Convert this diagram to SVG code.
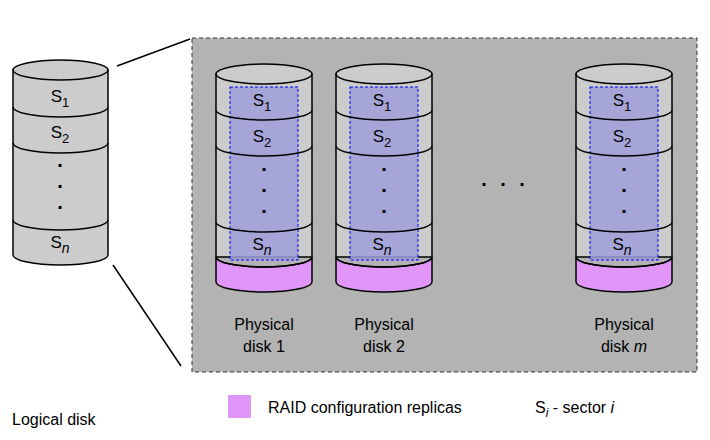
<svg xmlns="http://www.w3.org/2000/svg" width="710" height="440" viewBox="0 0 710 440">
<style>
text{font-family:"Liberation Sans",Arial,sans-serif;font-size:16px;fill:#000}
.s{font-size:17px;text-anchor:middle}
.c{fill:#cccccc;stroke:#000;stroke-width:1.5}
.l{fill:none;stroke:#000;stroke-width:1.5}
.p{fill:#e096f8;stroke:#000;stroke-width:1.5}
.d{fill:#9e9ed8;fill-opacity:0.85;stroke:#0000ff;stroke-width:1;stroke-dasharray:3,2}
.lab{text-anchor:middle}
.dot{font-size:20px;font-weight:bold;text-anchor:middle}
</style>
<rect width="710" height="440" fill="#fff"/>
<g id="connectors">
<line x1="117" y1="66" x2="190" y2="39" stroke="#000" stroke-width="1.5"/>
<line x1="113" y1="265" x2="181" y2="366" stroke="#000" stroke-width="1.5"/>
</g>
<g id="physical-area">
<rect x="192" y="38" width="505" height="334" fill="#b3b3b3" stroke="#333" stroke-dasharray="4,3"/>
</g>
<g id="logical-disk">
<path class="c" d="M13,70 V255 A47.5,10 0 0 0 108,255 V70 Z"/>
<ellipse class="c" cx="60.5" cy="70" rx="47.5" ry="10"/>
<path class="l" d="M13,107 A47.5,10 0 0 0 108,107 M13,143 A47.5,10 0 0 0 108,143 M13,220 A47.5,10 0 0 0 108,220"/>
<text class="s" x="60" y="102">S<tspan font-size="13" dy="5">1</tspan></text>
<text class="s" x="60" y="138">S<tspan font-size="13" dy="5">2</tspan></text>
<text class="dot" x="60" y="167">.</text><text class="dot" x="60" y="188">.</text><text class="dot" x="60" y="209">.</text>
<text class="s" x="60" y="248">S<tspan font-size="14" font-style="italic" dy="5">n</tspan></text>
<text x="12" y="425">Logical disk</text>
</g>
<defs>
<g id="pd">
<path class="c" d="M0,74 V257 H96 V74 Z"/>
<path class="p" d="M0,257 V282 A48,10 0 0 0 96,282 V257 A48,10 0 0 1 0,257 Z"/>
<ellipse class="c" cx="48" cy="74" rx="48" ry="10"/>
<rect class="d" x="14" y="87" width="68" height="173"/>
<path class="l" d="M0,110 A48,10 0 0 0 96,110 M0,146 A48,10 0 0 0 96,146 M0,222 A48,10 0 0 0 96,222 M0,257 A48,10 0 0 0 96,257"/>
<text class="s" x="46" y="106">S<tspan font-size="13" dy="5">1</tspan></text>
<text class="s" x="46" y="142">S<tspan font-size="13" dy="5">2</tspan></text>
<text class="dot" x="48" y="171">.</text><text class="dot" x="48" y="192">.</text><text class="dot" x="48" y="213">.</text>
<text class="s" x="46" y="250">S<tspan font-size="14" font-style="italic" dy="5">n</tspan></text>
</g>
</defs>
<g id="disk1"><use href="#pd" x="216"/><text class="lab" x="264" y="330">Physical</text><text class="lab" x="264" y="352">disk 1</text></g>
<g id="disk2"><use href="#pd" x="336"/><text class="lab" x="384" y="330">Physical</text><text class="lab" x="384" y="352">disk 2</text></g>
<g id="diskm"><use href="#pd" x="576"/><text class="lab" x="624" y="330">Physical</text><text class="lab" x="624" y="352">disk <tspan font-style="italic">m</tspan></text></g>
<text class="dot" x="484" y="186">.</text><text class="dot" x="503" y="186">.</text><text class="dot" x="522" y="186">.</text>
<g id="legend">
<rect x="228" y="395" width="23" height="23" fill="#e096f8"/>
<text x="268" y="413">RAID configuration replicas</text>
<text x="535" y="413">S<tspan font-size="12" font-style="italic" dy="4">i</tspan><tspan dy="-4"> - sector </tspan><tspan font-style="italic">i</tspan></text>
</g>
</svg>
